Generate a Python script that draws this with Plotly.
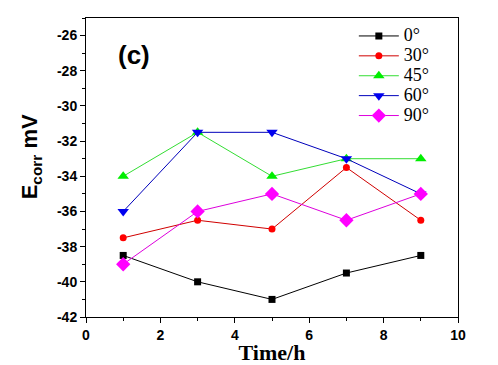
import plotly.graph_objects as go

time_h = [1, 3, 5, 7, 9]
labels = ["0°", "30°", "45°", "60°", "90°"]
e0 = [-38.5, -40, -41, -39.5, -38.5]
e30 = [-37.5, -36.5, -37, -33.5, -36.5]
e45 = [-34, -31.5, -34, -33, -33]
e60 = [-36, -31.5, -31.5, -33, -35]
e90 = [-39, -36, -35, -36.5, -35]
x_ticks = [0, 2, 4, 6, 8, 10]
y_ticks = [-42, -40, -38, -36, -34, -32, -30, -28, -26]

series = [e0, e30, e45, e60, e90]
line_colors = ["#000000", "#D00000", "#33DD33", "#0000BB", "#DD00DD"]
marker_colors = ["#000000", "#FF0000", "#00EE00", "#0000EE", "#FF00FF"]
symbols = ["square", "circle", "triangle-up", "triangle-down", "diamond"]
sizes = [7, 7, 10, 10, 11]

fig = go.Figure()
for lab, ys, lc, mc, s, sz in zip(labels, series, line_colors, marker_colors, symbols, sizes):
    fig.add_trace(go.Scatter(
        x=time_h, y=ys, mode="lines+markers",
        name=f"<span style='font-size:18px'>{lab}</span>",
        line=dict(color=lc, width=1),
        marker=dict(symbol=s, size=sz, color=mc),
    ))

fig.add_annotation(x=1.3, y=-27.1, text="<b>(c)</b>", showarrow=False,
                   font=dict(family="Liberation Sans, Arial", size=26, color="black"))

fig.add_annotation(xref="paper", yref="paper", x=-0.19, y=0.535,
                   text="<b>E<sub>corr</sub> mV</b>", textangle=-90, showarrow=False,
                   font=dict(family="Liberation Sans, Arial", size=22, color="black"))

axis_common = dict(
    showgrid=False, zeroline=False, showline=True, linecolor="black", linewidth=1,
    mirror=True, ticks="outside", ticklen=5, tickwidth=1, tickcolor="black",
    automargin=False,
    tickfont=dict(family="Liberation Sans, Arial", size=14, color="black"),
)

fig.update_xaxes(range=[0, 10], tickvals=x_ticks,
                 ticktext=[f"<b>{v}</b>" for v in x_ticks],
                 minor=dict(dtick=1, ticks="outside", ticklen=3, tickcolor="black"),
                 title=dict(text="<b>Time/h</b>", standoff=4,
                            font=dict(family="Liberation Serif, Times New Roman", size=22, color="black")),
                 **axis_common)
fig.update_yaxes(range=[-42, -25], tickvals=y_ticks,
                 ticktext=[f"<b>-{abs(v)}</b>" for v in y_ticks],
                 minor=dict(dtick=1, tick0=-42, ticks="outside", ticklen=3, tickcolor="black"),
                 **axis_common)

fig.update_layout(
    width=490, height=357,
    margin=dict(l=78, r=40, t=10, b=48),
    paper_bgcolor="white", plot_bgcolor="white",
    showlegend=True,
    legend=dict(x=0.72, y=0.99, xanchor="left", yanchor="top",
                font=dict(family="Liberation Serif, Times New Roman", size=13, color="black"),
                bgcolor="rgba(0,0,0,0)", tracegroupgap=0, itemwidth=40),
)

fig.write_html("out.html")
